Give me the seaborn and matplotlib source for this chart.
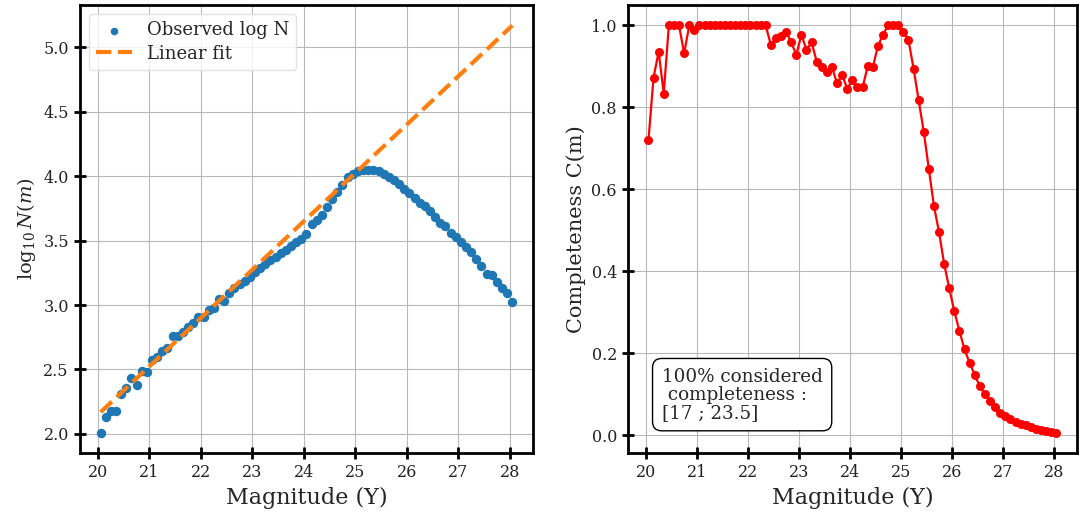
import numpy as np
import pandas as pd
import matplotlib
matplotlib.use("Agg")
import matplotlib.pyplot as plt
import seaborn as sns

# Magnitude bins (bin centres, 0.1 mag wide)
magnitude = np.round(np.arange(20.05, 28.06, 0.1), 2)

# log10 of the number counts per bin
log_counts = [
    2.01, 2.13, 2.18, 2.18, 2.31, 2.36, 2.43, 2.38, 2.49, 2.48,
    2.57, 2.60, 2.64, 2.67, 2.76, 2.76, 2.79, 2.83, 2.86, 2.91,
    2.91, 2.96, 2.98, 3.05, 3.03, 3.09, 3.13, 3.16, 3.19, 3.22,
    3.26, 3.29, 3.32, 3.35, 3.37, 3.40, 3.43, 3.46, 3.49, 3.51,
    3.55, 3.63, 3.66, 3.70, 3.76, 3.82, 3.88, 3.93, 3.99, 4.02,
    4.04, 4.05, 4.05, 4.05, 4.04, 4.02, 3.99, 3.97, 3.94, 3.90,
    3.87, 3.83, 3.79, 3.77, 3.73, 3.68, 3.64, 3.61, 3.56, 3.53,
    3.49, 3.45, 3.41, 3.36, 3.30, 3.24, 3.23, 3.18, 3.13, 3.09,
    3.02,
]

# Completeness per bin
completeness = [
    0.720, 0.873, 0.936, 0.834, 1.000, 1.000, 1.000, 0.932, 1.000, 0.990,
    1.000, 1.000, 1.000, 1.000, 1.000, 1.000, 1.000, 1.000, 1.000, 1.000,
    1.000, 1.000, 1.000, 1.000, 0.953, 0.969, 0.974, 0.985, 0.959, 0.929,
    0.977, 0.941, 0.959, 0.912, 0.898, 0.887, 0.898, 0.859, 0.879, 0.846,
    0.867, 0.850, 0.849, 0.900, 0.898, 0.949, 0.978, 1.000, 1.000, 1.000,
    0.985, 0.965, 0.895, 0.818, 0.741, 0.650, 0.560, 0.496, 0.419, 0.359,
    0.303, 0.255, 0.210, 0.177, 0.148, 0.120, 0.100, 0.085, 0.069, 0.056,
    0.047, 0.040, 0.034, 0.029, 0.025, 0.021, 0.017, 0.014, 0.011, 0.009,
    0.007,
]

# Linear fit coefficients: log10 N = slope * m + intercept
fit_slope = 0.375
fit_intercept = -5.35

x_ticks = [20, 21, 22, 23, 24, 25, 26, 27, 28]
left_y_ticks = [2.0, 2.5, 3.0, 3.5, 4.0, 4.5, 5.0]
right_y_ticks = [0.0, 0.2, 0.4, 0.6, 0.8, 1.0]
box_text = "100% considered\n completeness :\n[17 ; 23.5]"

sns.set_theme(style="whitegrid")
plt.rcParams.update({
    "font.family": ["DejaVu Serif"],
    "mathtext.fontset": "dejavuserif",
    "axes.edgecolor": "black",
    "axes.linewidth": 2.0,
    "grid.color": "#b8b8b8",
    "grid.linewidth": 0.8,
    "xtick.bottom": True,
    "ytick.left": True,
    "xtick.direction": "inout",
    "ytick.direction": "inout",
    "xtick.major.size": 9,
    "ytick.major.size": 9,
    "xtick.major.width": 2,
    "ytick.major.width": 2,
    "xtick.color": "black",
    "ytick.color": "black",
    "xtick.labelsize": 11.5,
    "ytick.labelsize": 11.5,
    "xtick.labelcolor": "#222222",
    "ytick.labelcolor": "#222222",
})

df = pd.DataFrame({"mag": magnitude, "logN": log_counts, "C": completeness})
df["fit"] = fit_slope * df["mag"] + fit_intercept

fig = plt.figure(figsize=(10.81, 5.13), dpi=100)
ax1 = fig.add_axes([0.074, 0.117, 0.419, 0.873])
ax2 = fig.add_axes([0.581, 0.117, 0.415, 0.873])

# Number counts and linear fit
sns.scatterplot(data=df, x="mag", y="logN", ax=ax1, color="#1f77b4",
                s=46, linewidth=0, label="Observed log N", zorder=3)
sns.lineplot(data=df, x="mag", y="fit", ax=ax1, color="#ff7f0e",
             linewidth=3, linestyle="--", label="Linear fit", zorder=4)
ax1.set_xticks(x_ticks)
ax1.set_yticks(left_y_ticks)
ax1.set_xlabel("Magnitude (Y)", fontsize=16)
ax1.set_ylabel(r"$\log_{10}N(m)$", fontsize=14, labelpad=4)
ax1.margins(0.05)
leg = ax1.legend(loc="upper left", fontsize=13, frameon=True,
                 fancybox=True, framealpha=0.8, markerscale=0.8,
                 borderaxespad=0.5, labelspacing=0.3)
leg.get_frame().set_edgecolor("#dddddd")
leg.get_frame().set_linewidth(1.0)

# Completeness curve
sns.lineplot(data=df, x="mag", y="C", ax=ax2, color="red", marker="o",
             markersize=6.5, markeredgewidth=0, linewidth=1.6, zorder=3)
ax2.set_xticks(x_ticks)
ax2.set_yticks(right_y_ticks)
ax2.set_xlabel("Magnitude (Y)", fontsize=16)
ax2.set_ylabel("Completeness C(m)", fontsize=15)
ax2.margins(0.05)
ax2.text(0.075, 0.07, box_text, transform=ax2.transAxes, fontsize=13.2,
         ha="left", va="bottom", linespacing=1.0,
         bbox=dict(boxstyle="round,pad=0.5", facecolor="white",
                   edgecolor="black", linewidth=1.0))

for ax in (ax1, ax2):
    ax.grid(True)
    for sp in ax.spines.values():
        sp.set_color("black")
        sp.set_linewidth(2.0)

fig.savefig("out.png", dpi=100)
